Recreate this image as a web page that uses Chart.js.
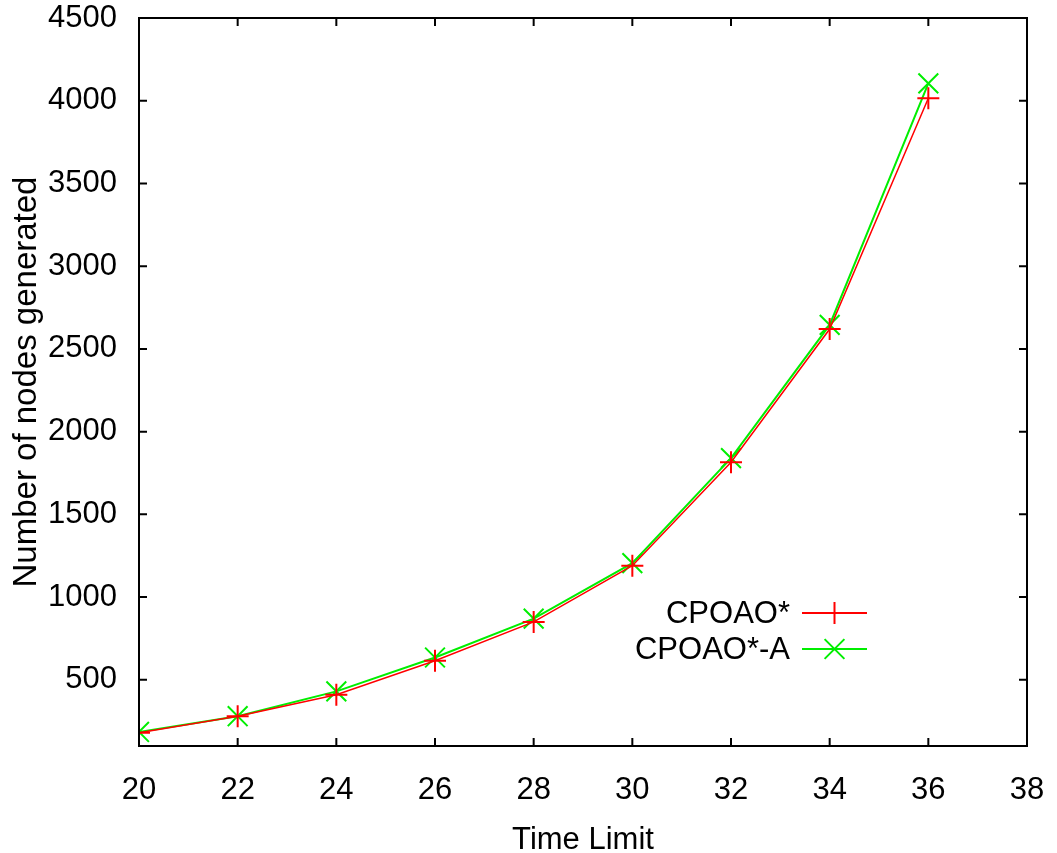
<!DOCTYPE html>
<html>
<head>
<meta charset="utf-8">
<script src="https://cdn.jsdelivr.net/npm/chart.js@4/dist/chart.umd.min.js"></script>
<style>
  html, body { margin: 0; padding: 0; background: #fff; }
  #wrap { width: 1057px; height: 853px; }
</style>
</head>
<body>
<div id="wrap"><canvas id="nodesChart" width="1057" height="853"></canvas></div>
<script>
const timeLimits = [20, 22, 24, 26, 28, 30, 32, 34, 36];
const cpoao = [180, 280, 410, 615, 850, 1190, 1815, 2620, 4015];
const cpoaoA = [185, 280, 430, 635, 870, 1205, 1840, 2645, 4105];
const xTicks = [20, 22, 24, 26, 28, 30, 32, 34, 36, 38];
const yTicks = [500, 1000, 1500, 2000, 2500, 3000, 3500, 4000, 4500];
const seriesNames = ["CPOAO*", "CPOAO*-A"];

const FONT = "'Liberation Sans', Arial, sans-serif";

function toPoints(ys) {
  return timeLimits.map((t, i) => ({ x: t, y: ys[i] }));
}

// frame + inward ticks on all four sides, gnuplot style
const framePlugin = {
  id: "frame",
  afterDraw(chart) {
    const { ctx, chartArea: a, scales } = chart;
    ctx.save();
    ctx.strokeStyle = "#000";
    ctx.lineWidth = 2;
    ctx.strokeRect(a.left, a.top, a.right - a.left, a.bottom - a.top);
    const len = 8;
    ctx.beginPath();
    xTicks.forEach(v => {
      const px = scales.x.getPixelForValue(v);
      ctx.moveTo(px, a.bottom); ctx.lineTo(px, a.bottom - len);
      ctx.moveTo(px, a.top); ctx.lineTo(px, a.top + len);
    });
    yTicks.forEach(v => {
      const py = scales.y.getPixelForValue(v);
      ctx.moveTo(a.left, py); ctx.lineTo(a.left + len, py);
      ctx.moveTo(a.right, py); ctx.lineTo(a.right - len, py);
    });
    ctx.stroke();
    ctx.restore();
  }
};

// legend inside the plot: text right aligned, sample line to the right
const keyPlugin = {
  id: "key",
  afterDatasetsDraw(chart) {
    const { ctx, chartArea: a } = chart;
    const lineEnd = a.right - 160;
    const lineStart = lineEnd - 65;
    const top = a.top + 595;
    ctx.save();
    ctx.font = "31px " + FONT;
    ctx.textAlign = "right";
    ctx.textBaseline = "middle";
    chart.data.datasets.forEach((ds, i) => {
      const y = top + i * 36;
      ctx.fillStyle = "#000";
      ctx.fillText(ds.label, lineStart - 12, y + 1);
      ctx.strokeStyle = ds.borderColor;
      ctx.lineWidth = 2;
      ctx.beginPath();
      ctx.moveTo(lineStart, y); ctx.lineTo(lineEnd, y);
      ctx.stroke();
      Chart.helpers.drawPoint(ctx, {
        pointStyle: ds.pointStyle, radius: ds.pointRadius, borderWidth: 2
      }, (lineStart + lineEnd) / 2, y);
    });
    ctx.restore();
  }
};

const ctx = document.getElementById("nodesChart").getContext("2d");

new Chart(ctx, {
  type: "line",
  data: {
    datasets: [
      {
        label: seriesNames[0],
        data: toPoints(cpoao),
        borderColor: "#ff0000",
        backgroundColor: "#ff0000",
        borderWidth: 1.5,
        pointStyle: "cross",
        pointRadius: 11,
        pointBorderWidth: 2,
        tension: 0
      },
      {
        label: seriesNames[1],
        data: toPoints(cpoaoA),
        borderColor: "#00ee00",
        backgroundColor: "#00ee00",
        borderWidth: 2,
        pointStyle: "crossRot",
        pointRadius: 14,
        pointBorderWidth: 2,
        tension: 0
      }
    ]
  },
  options: {
    responsive: false,
    animation: false,
    layout: { padding: { left: 0, top: 18, right: 30, bottom: 0 } },
    plugins: {
      legend: { display: false },
      tooltip: { enabled: false }
    },
    scales: {
      x: {
        type: "linear",
        min: 20,
        max: 38,
        afterBuildTicks: s => { s.ticks = xTicks.map(v => ({ value: v })); },
        afterFit: s => { s.height = 107; s.paddingLeft = 0; s.paddingRight = 0; },
        grid: { display: false },
        border: { display: false },
        ticks: {
          color: "#000", font: { family: FONT, size: 31 }, padding: 18,
          callback: v => String(v)
        },
        title: {
          display: true, text: "Time Limit", color: "#000",
          font: { family: FONT, size: 31 }, padding: { top: 0, bottom: -6 }
        }
      },
      y: {
        type: "linear",
        min: 100,
        max: 4500,
        afterBuildTicks: s => { s.ticks = yTicks.map(v => ({ value: v })); },
        afterFit: s => { s.width = 139; s.paddingTop = 0; s.paddingBottom = 0; },
        grid: { display: false },
        border: { display: false },
        ticks: {
          color: "#000", font: { family: FONT, size: 31 }, padding: 14,
          callback: v => String(v)
        },
        title: {
          display: true, text: "Number of nodes generated", color: "#000",
          font: { family: FONT, size: 33 }, padding: { top: 7, bottom: 0 }
        }
      }
    }
  },
  plugins: [framePlugin, keyPlugin]
});
</script>
</body>
</html>
